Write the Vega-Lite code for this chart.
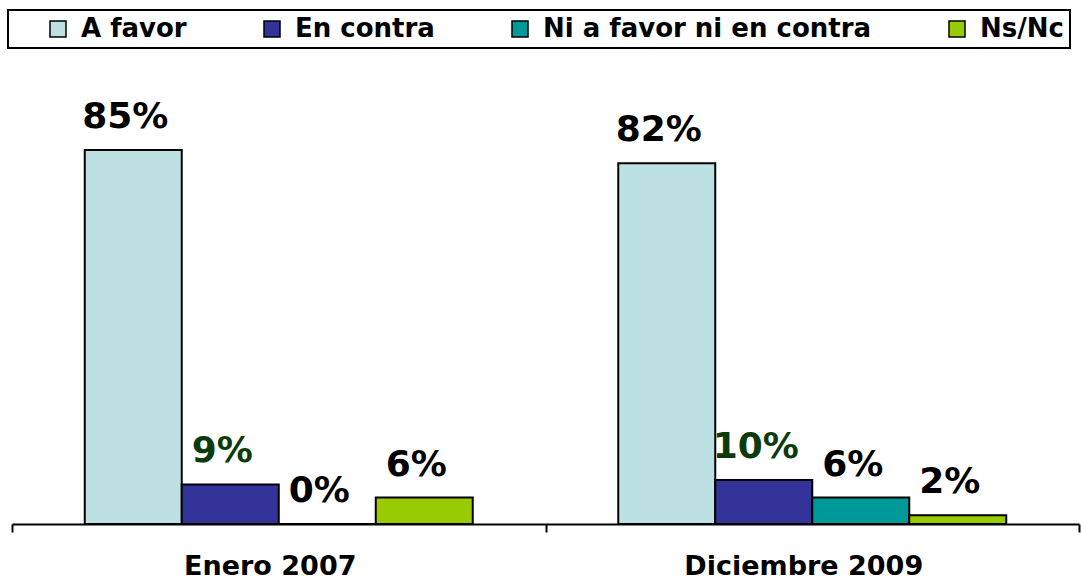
{
  "$schema": "https://vega.github.io/schema/vega-lite/v6.json",
  "width": 1067,
  "height": 440,
  "autosize": {"type": "none"},
  "padding": {"left": 12, "top": 84, "right": 2, "bottom": 55},
  "background": "white",
  "config": {"view": {"stroke": null}, "font": "DejaVu Sans"},
  "data": {
    "values": [
      {"periodo": "Enero 2007", "serie": "A favor", "valor": 0.85},
      {"periodo": "Enero 2007", "serie": "En contra", "valor": 0.09},
      {"periodo": "Enero 2007", "serie": "Ni a favor ni en contra", "valor": 0.0},
      {"periodo": "Enero 2007", "serie": "Ns/Nc", "valor": 0.06},
      {"periodo": "Diciembre 2009", "serie": "A favor", "valor": 0.82},
      {"periodo": "Diciembre 2009", "serie": "En contra", "valor": 0.10},
      {"periodo": "Diciembre 2009", "serie": "Ni a favor ni en contra", "valor": 0.06},
      {"periodo": "Diciembre 2009", "serie": "Ns/Nc", "valor": 0.02}
    ]
  },
  "encoding": {
    "x": {
      "field": "periodo",
      "type": "nominal",
      "sort": ["Enero 2007", "Diciembre 2009"],
      "scale": {"paddingInner": 0, "paddingOuter": 0},
      "axis": {
        "title": null,
        "labelAngle": 0,
        "labelFont": "DejaVu Sans",
        "labelFontSize": 27,
        "labelFontWeight": "bold",
        "labelColor": "black",
        "labelPadding": 21,
        "labelLimit": 500,
        "labelOffset": -9,
        "domainColor": "black",
        "domainWidth": 2,
        "tickColor": "black",
        "tickWidth": 2,
        "tickSize": 8,
        "tickBand": "extent",
        "grid": false
      }
    },
    "xOffset": {
      "field": "serie",
      "type": "nominal",
      "sort": ["A favor", "En contra", "Ni a favor ni en contra", "Ns/Nc"],
      "scale": {"paddingInner": 0, "paddingOuter": 0.75}
    },
    "y": {
      "field": "valor",
      "type": "quantitative",
      "scale": {"domain": [0, 1]},
      "axis": null
    }
  },
  "layer": [
    {
      "mark": {"type": "bar", "stroke": "black", "strokeWidth": 2},
      "encoding": {
        "color": {
          "field": "serie",
          "type": "nominal",
          "sort": ["A favor", "En contra", "Ni a favor ni en contra", "Ns/Nc"],
          "scale": {
            "domain": ["A favor", "En contra", "Ni a favor ni en contra", "Ns/Nc"],
            "range": ["#BDE0E3", "#333399", "#009999", "#99CC00"]
          },
          "legend": {
            "orient": "none",
            "legendX": -4,
            "legendY": -74,
            "direction": "horizontal",
            "columns": 4,
            "title": " ",
            "titleOrient": "left",
            "titleFontSize": 1,
            "titlePadding": 31,
            "strokeColor": "black",
            "padding": 6,
            "symbolType": "square",
            "symbolSize": 256,
            "symbolStrokeColor": "black",
            "symbolStrokeWidth": 1.5,
            "labelFont": "DejaVu Sans",
            "labelFontSize": 26,
            "labelFontWeight": "bold",
            "labelColor": "black",
            "labelOffset": 10,
            "labelLimit": 500,
            "columnPadding": 72,
            "encode": {"legend": {"update": {"strokeWidth": {"value": 2}}}}
          }
        }
      }
    },
    {
      "mark": {
        "type": "text",
        "font": "DejaVu Sans",
        "fontWeight": "bold",
        "fontSize": 36,
        "baseline": "alphabetic",
        "dy": -22,
        "dx": -8
      },
      "encoding": {
        "text": {"field": "valor", "type": "quantitative", "format": ".0%"},
        "color": {
          "condition": {"test": "datum.serie === 'En contra'", "value": "#0b3b0b"},
          "value": "black"
        }
      }
    }
  ]
}
